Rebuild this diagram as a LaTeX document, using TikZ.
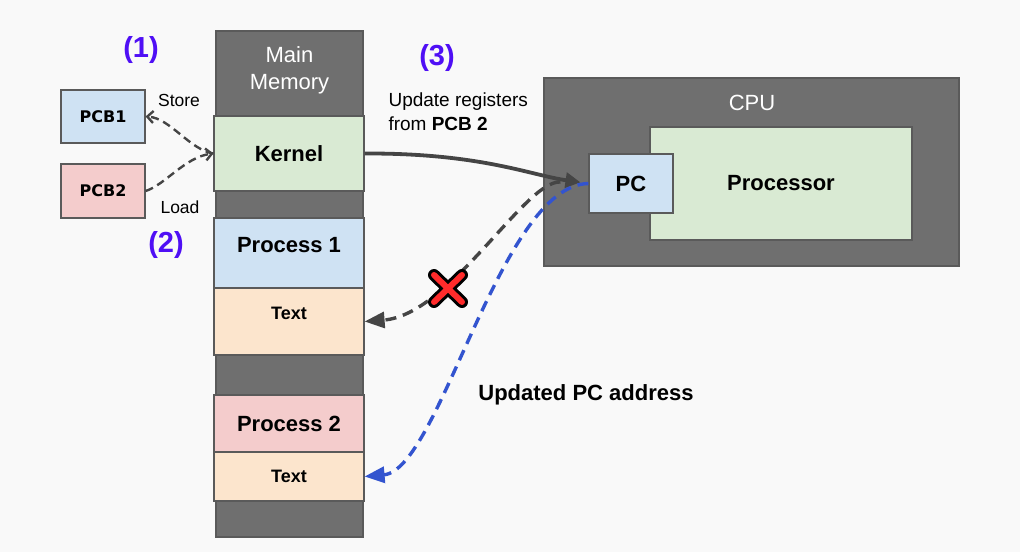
\documentclass[tikz,border=0pt]{standalone}
\usepackage{fontspec}
\setmainfont{Liberation Sans}
\newfontfamily\pcbfont{DejaVu Sans}
\usepackage{xcolor}
\definecolor{canvas}{HTML}{F9F9F9}
\definecolor{slab}{HTML}{6F6F6F}
\definecolor{edge}{HTML}{5A5A5A}
\definecolor{kern}{HTML}{D9EAD3}
\definecolor{pblue}{HTML}{CFE2F3}
\definecolor{pred}{HTML}{F4CCCC}
\definecolor{ptext}{HTML}{FCE5CD}
\definecolor{tag}{HTML}{4F0FF5}
\definecolor{upd}{HTML}{3354CF}
\definecolor{wire}{HTML}{454545}
\definecolor{cross}{HTML}{FF2B2B}
\usepackage{tikz}
\usetikzlibrary{positioning,arrows.meta}

\begin{document}
\begin{tikzpicture}[x=1pt, y=-1pt,
    every node/.style={font=\fontsize{22}{27}\selectfont, text=black},
    block/.style={draw=edge, line width=1.2pt, fill=slab, inner sep=0pt},
    seg/.style={draw=edge, line width=1.2pt, minimum width=150pt, inner sep=0pt,
                font=\fontsize{22}{27}\selectfont\bfseries},
    pcb/.style={draw=edge, line width=1.2pt, minimum width=84pt, inner sep=0pt,
                font=\pcbfont\fontsize{16}{19}\selectfont\bfseries},
    whitelbl/.style={text=white, align=center},
    tagno/.style={font=\fontsize{29}{34}\selectfont\bfseries, text=tag},
    note/.style={font=\fontsize{17.5}{21}\selectfont},
    arr/.style={-{Triangle[length=15pt,width=15pt]}, line width=3.8pt, draw=wire},
    dasharr/.style={-{Triangle[length=20pt,width=16pt]}, line width=3.4pt,
                    dash pattern=on 11pt off 7pt},
    linkarr/.style={-{Straight Barb[length=6pt,width=12pt]}, line width=2.4pt,
                    draw=wire, dash pattern=on 8pt off 5pt}]
  \fill[canvas] (0,0) rectangle (1020,552);
  \node[block, minimum width=147pt, minimum height=506pt] (mem) at (289.5,284) {};
  \node[whitelbl] (memlbl) at (289.5,70) {Main\\Memory};
  \node[seg, fill=kern, minimum height=75pt] (kernel) at (289,153.5) {Kernel};
  \node[seg, fill=pblue, minimum height=70pt, text height=16pt, text depth=18pt] (proc1) at (289,253) {Process 1};
  \node[seg, fill=ptext, minimum height=67pt, text height=14pt, text depth=19pt,
        font=\fontsize{18}{22}\selectfont\bfseries] (text1) at (289,321.5) {Text};
  \node[seg, fill=pred, minimum height=57pt] (proc2) at (289,423.5) {Process 2};
  \node[seg, fill=ptext, minimum height=49pt,
        font=\fontsize{18}{22}\selectfont\bfseries] (text2) at (289,476.5) {Text};
  \node[pcb, fill=pblue, minimum height=53pt] (pcb1) at (103,116.5) {PCB1};
  \node[pcb, fill=pred, minimum height=54pt] (pcb2) at (103,191) {PCB2};
  \node[tagno] (n1) at (141,50) {(1)};
  \node[tagno] (n2) at (166,245) {(2)};
  \node[tagno] (n3) at (437,58) {(3)};
  \node[note] (store) at (179,100) {Store};
  \node[note] (load) at (180,207) {Load};
  \node[font=\fontsize{19}{24}\selectfont, align=left, anchor=west] (updreg) at (385,112)
    {Update registers\\from \textbf{PCB 2}};
  \node[block, minimum width=415pt, minimum height=188pt] (cpu) at (751.5,172) {};
  \node[whitelbl] (cpulbl) at (752,103) {CPU};
  \node[seg, fill=kern, minimum width=262pt, minimum height=113pt] (proc) at (781,183.5) {Processor};
  \node[seg, fill=pblue, minimum width=84pt, minimum height=59pt] (pc) at (631,183.5) {PC};
  \node[font=\fontsize{22}{27}\selectfont\bfseries] (pcaddr) at (586,395) {Updated PC address};
  \draw[linkarr] (kernel.west) .. controls (190,150) and (170,118) .. (pcb1.east);
  \draw[linkarr] (pcb2.east) .. controls (165,185) and (185,157) .. (kernel.west);
  \draw[arr, shorten >=8pt] (kernel.east) .. controls (480,153) and (530,175) .. (pc.west);
  \draw[dasharr, draw=wire, shorten <=28pt] (pc.west) .. controls (525,180) and (450,315) .. (text1.east);
  \draw[dasharr, draw=upd] (pc.west) .. controls (500,185) and (440,470) .. (text2.east);
  \draw[line width=12pt, line cap=round, black] (434,275) -- (462,302) (462,275) -- (434,302);
  \draw[line width=6pt, line cap=round, cross] (434,275) -- (462,302) (462,275) -- (434,302);
\end{tikzpicture}
\end{document}
